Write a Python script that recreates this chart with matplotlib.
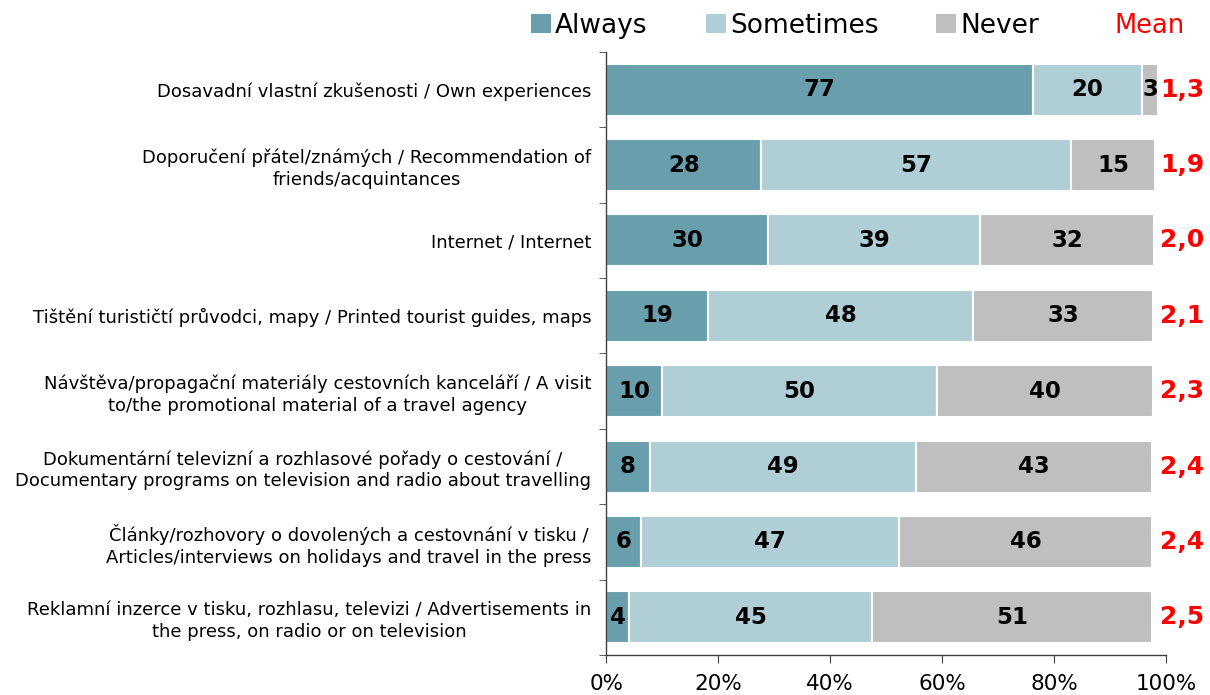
import numpy as np
import matplotlib.pyplot as plt
from matplotlib.patches import Patch

categories = [
    "Dosavadní vlastní zkušenosti / Own experiences",
    "Doporučení přátel/známých / Recommendation of\nfriends/acquintances",
    "Internet / Internet",
    "Tištění turističtí průvodci, mapy / Printed tourist guides, maps",
    "Návštěva/propagační materiály cestovních kanceláří / A visit\nto/the promotional material of a travel agency",
    "Dokumentární televizní a rozhlasové pořady o cestování /\nDocumentary programs on television and radio about travelling",
    "Články/rozhovory o dovolených a cestovnání v tisku /\nArticles/interviews on holidays and travel in the press",
    "Reklamní inzerce v tisku, rozhlasu, televizi / Advertisements in\nthe press, on radio or on television",
]
# bar lengths as drawn (share of the axis)
always = [76.3, 27.6, 28.9, 18.2, 10.0, 7.7, 6.1, 4.0]
sometimes = [19.4, 55.5, 37.9, 47.4, 49.0, 47.7, 46.2, 43.5]
never = [2.9, 14.9, 31.0, 32.1, 38.6, 42.1, 45.2, 50.0]
# printed labels
always_lbl = [77, 28, 30, 19, 10, 8, 6, 4]
sometimes_lbl = [20, 57, 39, 48, 50, 49, 47, 45]
never_lbl = [3, 15, 32, 33, 40, 43, 46, 51]
means = ["1,3", "1,9", "2,0", "2,1", "2,3", "2,4", "2,4", "2,5"]

series_names = ["Always", "Sometimes", "Never"]
colors = ["#699fad", "#b0ced6", "#bfbfbf"]

plt.rcParams['font.family'] = ['DejaVu Sans']

fig = plt.figure(figsize=(12.1, 6.95), dpi=100)
ax = fig.add_axes([0.5012, 0.0576, 0.4624, 0.8676])

y = np.arange(len(categories))
left = np.zeros(len(categories))
for vals, lbls, col in zip([always, sometimes, never], [always_lbl, sometimes_lbl, never_lbl], colors):
    vals = np.array(vals)
    ax.barh(y, vals, left=left, height=0.69, color=col, edgecolor='white', linewidth=1.5)
    for yi, l, v, lb in zip(y, left, vals, lbls):
        ax.text(l + v / 2, yi, str(lb), ha='center', va='center',
                fontsize=16.5, fontweight='bold', color='black')
    left = left + vals

for yi, m in zip(y, means):
    ax.text(98.9, yi, m, ha='left', va='center', fontsize=18,
            fontweight='bold', color='#ff0000', clip_on=False)

ax.set_xlim(0, 100)
ax.set_ylim(len(categories) - 0.5, -0.5)
ax.set_xticks(np.arange(0, 101, 20))
ax.set_xticklabels([f"{v}%" for v in range(0, 101, 20)], fontsize=15.5)
ax.set_yticks(y)
ax.set_yticklabels(categories, fontsize=13, multialignment='center', linespacing=1.25)
ax.set_yticks(np.arange(-0.5, len(categories), 1), minor=True)
ax.tick_params(axis='y', which='major', length=0, pad=11)
ax.tick_params(axis='y', which='minor', length=5, color='#404040')
ax.tick_params(axis='x', length=6, color='#404040', pad=8)

for s in ['top', 'right']:
    ax.spines[s].set_visible(False)
for s in ['left', 'bottom']:
    ax.spines[s].set_color('#404040')
    ax.spines[s].set_linewidth(1)

handles = [Patch(facecolor=c, edgecolor='none') for c in colors]
fig.legend(handles, series_names, loc='center left', bbox_to_anchor=(0.439, 0.963),
           ncol=3, frameon=False, fontsize=19, handlelength=0.76, handleheight=0.76,
           handletextpad=0.15, columnspacing=2.2, borderaxespad=0, borderpad=0)
fig.text(0.9795, 0.963, "Mean", ha='right', va='center', fontsize=18.5, color='#ff0000')

fig.savefig("out.png", dpi=100)
